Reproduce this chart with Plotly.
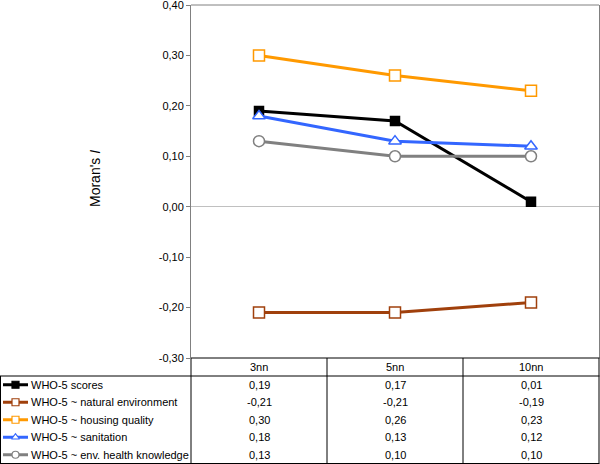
import plotly.graph_objects as go

categories = ["3nn", "5nn", "10nn"]
series_names = [
    "WHO-5 scores",
    "WHO-5 ~ natural environment",
    "WHO-5 ~ housing quality",
    "WHO-5 ~ sanitation",
    "WHO-5 ~ env. health knowledge",
]
who5_scores = [0.19, 0.17, 0.01]
natural_env = [-0.21, -0.21, -0.19]
housing_quality = [0.30, 0.26, 0.23]
sanitation = [0.18, 0.13, 0.12]
env_health = [0.13, 0.10, 0.10]
tick_vals = [-0.30, -0.20, -0.10, 0.00, 0.10, 0.20, 0.30, 0.40]
tick_text = ["-0,30", "-0,20", "-0,10", "0,00", "0,10", "0,20", "0,30", "0,40"]

values = [who5_scores, natural_env, housing_quality, sanitation, env_health]
colors = ["#000000", "#A0400C", "#FF9900", "#3366FF", "#808080"]
symbols = ["square", "square", "square", "triangle-up", "circle"]
fills = ["#000000", "#FFFFFF", "#FFFFFF", "#FFFFFF", "#FFFFFF"]
msizes = [9, 11, 11, 11, 11]

W, H = 600, 464
FONT = "Liberation Sans, Arial, sans-serif"

# pixel geometry
PL, PR, PT, PB = 191, 599, 5, 358
HDR_B = 376
TBL_B = 463.5
ROW_H = (TBL_B - HDR_B) / 5
col_edges = [191, 327, 463, 599]


def px(x):
    return x / W


def py(y):
    return 1 - y / H


fig = go.Figure()
xs = list(range(len(categories)))
for name, vals, c, s, f, ms in zip(series_names, values, colors, symbols, fills, msizes):
    fig.add_trace(go.Scatter(
        x=xs, y=vals, name=name, mode="lines+markers",
        line=dict(color=c, width=3),
        marker=dict(symbol=s, size=ms, color=f, line=dict(color=c, width=1.5)),
        showlegend=False, cliponaxis=False,
    ))

# legend keys in table (overlay axes in pixel coordinates)
for i, (c, s, f) in enumerate(zip(colors, symbols, fills)):
    yc = HDR_B + ROW_H * (i + 0.5)
    fig.add_trace(go.Scatter(
        x=[3, 28], y=[yc, yc], mode="lines", line=dict(color=c, width=3),
        xaxis="x2", yaxis="y2", showlegend=False, hoverinfo="skip",
    ))
    fig.add_trace(go.Scatter(
        x=[15.5], y=[yc], mode="markers",
        marker=dict(symbol=s, size=7, color=f, line=dict(color=c, width=1.2)),
        xaxis="x2", yaxis="y2", showlegend=False, hoverinfo="skip",
    ))

shapes = []
lc = dict(color="#000000", width=1)
# table lines
shapes.append(dict(type="line", xref="paper", yref="paper", x0=px(PL), x1=px(PR + 0.5), y0=py(PB), y1=py(PB), line=lc))
shapes.append(dict(type="line", xref="paper", yref="paper", x0=px(0), x1=px(PR + 0.5), y0=py(HDR_B), y1=py(HDR_B), line=lc))
shapes.append(dict(type="line", xref="paper", yref="paper", x0=px(0), x1=px(PR + 0.5), y0=py(TBL_B), y1=py(TBL_B), line=lc))
shapes.append(dict(type="line", xref="paper", yref="paper", x0=px(0.5), x1=px(0.5), y0=py(HDR_B), y1=py(TBL_B), line=lc))
for xe in col_edges:
    shapes.append(dict(type="line", xref="paper", yref="paper", x0=px(xe), x1=px(xe), y0=py(PB), y1=py(TBL_B), line=lc))
# top border of plot area
shapes.append(dict(type="line", xref="paper", yref="paper", x0=px(PL), x1=px(PR), y0=py(PT), y1=py(PT), line=dict(color="#808080", width=1)))

annotations = []
tf = dict(family=FONT, size=11, color="#000000")
for j, cat in enumerate(categories):
    xc = (col_edges[j] + col_edges[j + 1]) / 2
    annotations.append(dict(xref="paper", yref="paper", x=px(xc), y=py((PB + HDR_B) / 2),
                            text=cat, showarrow=False, font=tf, xanchor="center", yanchor="middle"))
    for i, vals in enumerate(values):
        yc = HDR_B + ROW_H * (i + 0.5)
        annotations.append(dict(xref="paper", yref="paper", x=px(xc), y=py(yc),
                                text=f"{vals[j]:.2f}".replace(".", ","), showarrow=False, font=tf,
                                xanchor="center", yanchor="middle"))
for i, name in enumerate(series_names):
    yc = HDR_B + ROW_H * (i + 0.5)
    annotations.append(dict(xref="paper", yref="paper", x=px(29), y=py(yc), text=name,
                            showarrow=False, font=tf, xanchor="left", yanchor="middle"))
annotations.append(dict(xref="paper", yref="paper", x=px(95), y=py(179), text="Moran's <i>I</i>",
                        showarrow=False, textangle=-90, font=dict(family=FONT, size=14, color="#000000"),
                        xanchor="center", yanchor="middle"))

fig.update_layout(
    width=W, height=H,
    margin=dict(l=0, r=0, t=0, b=0, pad=0),
    paper_bgcolor="#FFFFFF",
    plot_bgcolor="rgba(0,0,0,0)",
    font=dict(family=FONT, size=11, color="#000000"),
    xaxis=dict(domain=[px(PL), px(PR)], range=[-0.5, 2.5], showticklabels=False, ticks="",
               showgrid=False, zeroline=False, showline=False, fixedrange=True, automargin=False),
    yaxis=dict(domain=[py(PB), py(PT)], range=[-0.30, 0.40], tickvals=tick_vals, ticktext=tick_text,
               ticks="outside", ticklen=4, tickcolor="#808080", showgrid=False,
               zeroline=True, zerolinecolor="#C0C0C0", zerolinewidth=1,
               showline=True, linecolor="#808080", linewidth=1, mirror=True,
               ticklabeloverflow="allow", automargin=False,
               tickfont=dict(family=FONT, size=11, color="#000000")),
    xaxis2=dict(domain=[0, 1], range=[0, W], visible=False, fixedrange=True, anchor="y2", automargin=False),
    yaxis2=dict(domain=[0, 1], range=[H, 0], visible=False, fixedrange=True, anchor="x2", automargin=False),
    shapes=shapes,
    annotations=annotations,
    hovermode=False,
)

fig.write_html(
    "out.html",
    config={"displayModeBar": False},
    post_script="document.body.style.margin='0';document.body.style.overflow='hidden';",
)
